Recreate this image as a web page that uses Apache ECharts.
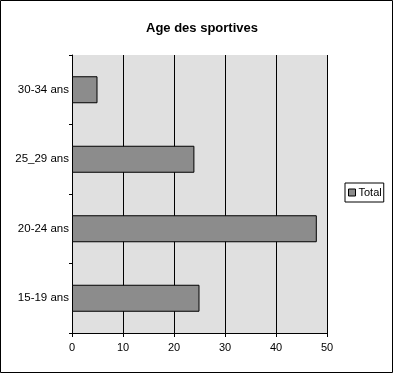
<!DOCTYPE html>
<html><head><meta charset="utf-8">
<script src="https://cdn.jsdelivr.net/npm/echarts@6/dist/echarts.min.js"></script>
<style>html,body{margin:0;padding:0;background:#fff}#c{width:405px;height:374px}</style>
</head><body><div id="c"></div>
<script>
const categories = ['15-19 ans', '20-24 ans', '25_29 ans', '30-34 ans'];
const totalValues = [25, 48, 24, 5];
const seriesName = 'Total';
const titleText = 'Age des sportives';

const chart = echarts.init(document.getElementById('c'), null, {renderer: 'canvas'});
const font = 'Liberation Sans, Arial, sans-serif';
chart.setOption({
  animation: false,
  backgroundColor: '#fff',
  title: {text: titleText, left: 197, top: 17, textAlign: 'center',
    textStyle: {fontFamily: font, fontSize: 13, fontWeight: 'bold', color: '#000'}},
  graphic: [{type: 'rect', shape: {x: 0.5, y: 0.5, width: 392, height: 372},
    style: {fill: null, stroke: '#000', lineWidth: 1}, silent: true}],
  legend: {data: [seriesName], left: 345, top: 183, orient: 'vertical',
    padding: [4, 2, 4, 3], itemGap: 0, borderColor: '#000', borderWidth: 1,
    itemWidth: 7, itemHeight: 7, icon: 'rect',
    itemStyle: {borderColor: '#000', borderWidth: 1},
    textStyle: {fontFamily: font, fontSize: 11, color: '#000', padding: [0, 0, 0, -2]}},
  grid: {left: 72, top: 55, width: 255, height: 278, show: true,
    backgroundColor: '#e0e0e0', borderWidth: 0},
  xAxis: {type: 'value', min: 0, max: 50, interval: 10,
    axisLine: {show: true, lineStyle: {color: '#000', width: 1}},
    axisTick: {show: true, length: 4, lineStyle: {color: '#000'}},
    axisLabel: {fontFamily: font, fontSize: 11, color: '#000', margin: 9},
    splitLine: {show: true, lineStyle: {color: '#000', width: 1}}},
  yAxis: {type: 'category', data: categories, boundaryGap: true,
    axisLine: {show: true, lineStyle: {color: '#000', width: 1}},
    axisTick: {show: true, length: 3, lineStyle: {color: '#000'}},
    axisLabel: {fontFamily: font, fontSize: 11.5, color: '#000', margin: 3},
    splitLine: {show: false}},
  series: [{name: seriesName, type: 'bar', data: totalValues, barWidth: 27,
    itemStyle: {color: '#8c8c8c', borderColor: '#000', borderWidth: 1}}]
});
</script></body></html>
